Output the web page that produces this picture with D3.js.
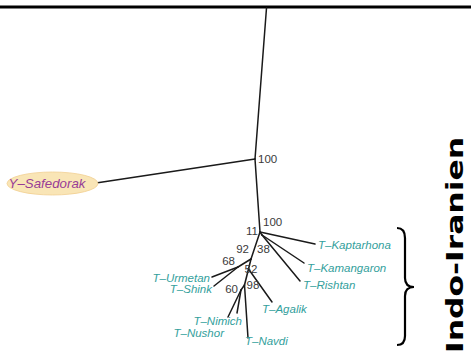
<!DOCTYPE html>
<html>
<head>
<meta charset="utf-8">
<script src="https://cdn.jsdelivr.net/npm/d3@7/dist/d3.min.js"></script>
<style>
  html, body { margin: 0; padding: 0; background: #fff; }
  svg { display: block; }
</style>
</head>
<body>
<svg id="chart" width="471" height="358"></svg>
<script>
// Unrooted tree: node ids, parent ids and layout coordinates in branch-length units
const nodeIds   = ["R", "A", "Saf", "B", "Kap", "C", "Kam", "Ris", "D", "E", "Urm", "Shi", "F", "Aga", "G", "H", "Nim", "Nus", "Nav"];
const parentIds = [null, "R", "A", "A", "B", "B", "C", "C", "B", "D", "E", "E", "D", "F", "F", "G", "H", "H", "G"];
const nodeX     = [0.0325, -0.025, -0.82, 0, 0.275, 0.01, 0.22, 0.20, -0.045, -0.11, -0.24, -0.23, -0.0575, 0.06, -0.0775, -0.095, -0.115, -0.16, -0.06];
const nodeY     = [-1.12, -0.365, -0.245, 0, 0.06, 0.015, 0.155, 0.245, 0.135, 0.175, 0.225, 0.27, 0.185, 0.35, 0.265, 0.29, 0.405, 0.425, 0.53];

// Leaf names
const tipNodes  = ["Saf", "Kap", "Kam", "Ris", "Urm", "Shi", "Aga", "Nim", "Nus", "Nav"];
const tipNames  = ["Y–Safedorak", "T–Kaptarhona", "T–Kamangaron", "T–Rishtan", "T–Urmetan", "T–Shink", "T–Agalik", "T–Nimich", "T–Nushor", "T–Navdi"];

// Bootstrap support values
const bootNodes  = ["A", "B", "B", "D", "D", "E", "F", "G", "H"];
const bootValues = [100, 11, 100, 92, 38, 68, 52, 98, 60];

const groupLabel = "Indo-Iranien";

// ---------------------------------------------------------------------------
const svg = d3.select("#chart");
const x = d3.scaleLinear().domain([-1, 1]).range([60, 460]);
const y = d3.scaleLinear().domain([-1, 1]).range([32, 432]);

const nodes = new Map(nodeIds.map((id, i) => [id, { id, parent: parentIds[i], x: nodeX[i], y: nodeY[i] }]));

// frame line across the top
svg.append("line")
  .attr("x1", 0).attr("x2", 471).attr("y1", 7).attr("y2", 7)
  .attr("stroke", "#000").attr("stroke-width", 3);

// branches
svg.append("g").selectAll("line")
  .data([...nodes.values()].filter(d => d.parent))
  .join("line")
  .attr("x1", d => x(nodes.get(d.parent).x))
  .attr("y1", d => y(nodes.get(d.parent).y))
  .attr("x2", d => x(d.x))
  .attr("y2", d => y(d.y))
  .attr("stroke", "#1a1a1a")
  .attr("stroke-width", 1.5)
  .attr("stroke-linecap", "round");

// outgroup leaf, drawn inside an ellipse
const outgroup = nodes.get(tipNodes[0]);
const ex = x(outgroup.x), ey = y(outgroup.y);
svg.append("ellipse")
  .attr("cx", ex - 43.5).attr("cy", ey + 0.5)
  .attr("rx", 45.5).attr("ry", 11.5)
  .attr("fill", "#f9e5b6")
  .attr("stroke", "#f1cf92")
  .attr("stroke-width", 0.8);
svg.append("text")
  .attr("x", ex - 49).attr("y", ey + 5)
  .attr("text-anchor", "middle")
  .attr("font-family", "Liberation Sans, Arial, sans-serif")
  .attr("font-style", "italic")
  .attr("font-size", 13.3)
  .attr("fill", "#983c96")
  .text(tipNames[0]);

// placement of the remaining leaf labels relative to their tips
const tipPlacement = {
  "Kap": ["start", 3, 5],
  "Kam": ["start", 3, 9],
  "Ris": ["start", 3, 8],
  "Urm": ["end", -2, 4.5],
  "Shi": ["end", -2, 7],
  "Aga": ["start", -10, 11],
  "Nim": ["end", 5, 12],
  "Nus": ["end", -4, 20],
  "Nav": ["start", -3, 7]
};

svg.append("g").selectAll("text")
  .data(tipNodes.slice(1).map((n, i) => ({ node: nodes.get(n), name: tipNames[i + 1] })))
  .join("text")
  .attr("x", d => x(d.node.x) + tipPlacement[d.node.id][1])
  .attr("y", d => y(d.node.y) + tipPlacement[d.node.id][2])
  .attr("text-anchor", d => tipPlacement[d.node.id][0])
  .attr("font-family", "Liberation Sans, Arial, sans-serif")
  .attr("font-style", "italic")
  .attr("font-size", 11.5)
  .attr("fill", "#33a09c")
  .text(d => d.name);

// placement of support values relative to their nodes (one entry per value)
const bootPlacement = [
  ["start", 3, 4],
  ["end", -2, 3],
  ["start", 3, -6],
  ["end", -2, -6],
  ["start", 6, -6],
  ["end", -3, -2],
  ["middle", 2.5, 4],
  ["start", 2, 4],
  ["end", -3, 3]
];

svg.append("g").selectAll("text")
  .data(bootValues.map((v, i) => ({ v, node: nodes.get(bootNodes[i]), p: bootPlacement[i] })))
  .join("text")
  .attr("x", d => x(d.node.x) + d.p[1])
  .attr("y", d => y(d.node.y) + d.p[2])
  .attr("text-anchor", d => d.p[0])
  .attr("font-family", "Liberation Sans, Arial, sans-serif")
  .attr("font-size", 11.5)
  .attr("fill", "#3a3a3a")
  .text(d => d.v);

// brace grouping the T- leaves
svg.append("path")
  .attr("d", "M397,228 Q405,228 405,238 L405,278 Q405,287 414,287 Q405,287 405,296 L405,336 Q405,345 397,345")
  .attr("fill", "none")
  .attr("stroke", "#000")
  .attr("stroke-width", 2.2);

svg.append("text")
  .attr("transform", "translate(463,353) rotate(-90)")
  .attr("font-family", "DejaVu Sans, sans-serif")
  .attr("font-weight", "bold")
  .attr("font-size", 22.5)
  .attr("textLength", 216)
  .attr("lengthAdjust", "spacingAndGlyphs")
  .attr("fill", "#000")
  .text(groupLabel);
</script>
</body>
</html>
